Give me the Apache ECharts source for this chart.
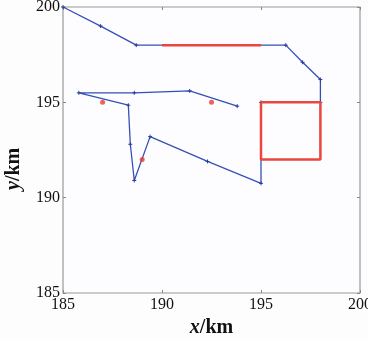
<!DOCTYPE html>
<html><head><meta charset="utf-8">
<script src="https://cdn.jsdelivr.net/npm/echarts@6/dist/echarts.min.js"></script>
<style>html,body{margin:0;padding:0;background:#fff}#c{width:368px;height:340px}</style>
</head><body><div id="c"></div>
<script>
// Blue trajectory
var pathX = [185, 186.9, 188.7, 196.25, 197.1, 198, 198, 195, 195, 192.3, 189.4, 188.6, 188.4, 188.3, 185.8, 188.6, 191.4, 193.8];
var pathY = [200, 199.0, 198.0, 198.0, 197.1, 196.2, 195, 195, 190.75, 191.9, 193.2, 190.9, 192.8, 194.85, 195.5, 195.5, 195.6, 194.8];
// Red segment
var redLineX = [190, 195];
var redLineY = [198, 198];
// Red square
var squareX = [195, 198, 198, 195, 195];
var squareY = [195, 195, 192, 192, 195];
// Red points
var dotX = [187, 192.5, 189];
var dotY = [195, 195, 192];
// Axis ticks
var xTicks = [185, 190, 195, 200];
var yTicks = [185, 190, 195, 200];

function zip(a, b) { return a.map(function (v, i) { return [v, b[i]]; }); }

var font = 'Liberation Serif';
var chart = echarts.init(document.getElementById('c'));
var axisBase = {
  type: 'value', min: xTicks[0], max: xTicks[xTicks.length - 1], interval: 5,
  splitLine: { show: false },
  axisLine: { show: false },
  axisTick: { show: true, inside: true, length: 3, lineStyle: { color: '#888' } }
};
chart.setOption({
  animation: false,
  backgroundColor: '#fdfdfe',
  grid: { left: 63, right: 8, top: 7, bottom: 47, outerBoundsMode: 'none', containLabel: false,
    show: true, borderColor: '#9a9a9a', borderWidth: 1.2, backgroundColor: '#fdfdff' },
  xAxis: [
    Object.assign({}, axisBase, {
      position: 'bottom',
      axisLabel: { color: '#111', fontFamily: font, fontSize: 16, margin: 4 },
      name: '{i|x}/km', nameLocation: 'middle', nameGap: 19,
      nameTextStyle: { fontFamily: font, fontSize: 20, fontWeight: 'bold', color: '#111',
        rich: { i: { fontFamily: font, fontSize: 20, fontWeight: 'bold', fontStyle: 'italic', color: '#111' } } }
    }),
    Object.assign({}, axisBase, { position: 'top', axisLabel: { show: false } })
  ],
  yAxis: [
    Object.assign({}, axisBase, {
      min: yTicks[0], max: yTicks[yTicks.length - 1],
      position: 'left',
      axisLabel: { color: '#111', fontFamily: font, fontSize: 16, margin: 3 }
    }),
    Object.assign({}, axisBase, { min: yTicks[0], max: yTicks[yTicks.length - 1], position: 'right', axisLabel: { show: false } })
  ],
  graphic: [{
    type: 'text', x: 4, y: 190, rotation: Math.PI / 2,
    style: {
      text: '{i|y}/km', fill: '#111', font: 'bold 20px "Liberation Serif"',
      rich: { i: { fontFamily: font, fontSize: 20, fontWeight: 'bold', fontStyle: 'italic', fill: '#111' } }
    }
  }],
  series: [
    {
      type: 'line', data: zip(pathX, pathY), z: 2,
      lineStyle: { color: '#3550b5', width: 1.3 },
      symbol: 'path://M2,0L2,4M0,2L4,2', symbolSize: 4, showSymbol: true,
      itemStyle: { color: '#2a3f9a', borderColor: '#2a3f9a', borderWidth: 1 }
    },
    {
      type: 'line', data: zip(redLineX, redLineY), z: 3, symbol: 'none',
      lineStyle: { color: '#e8463e', width: 2.5 }
    },
    {
      type: 'line', data: zip(squareX, squareY), z: 3, symbol: 'none',
      lineStyle: { color: '#e8463e', width: 2.5 }
    },
    {
      type: 'scatter', data: zip(dotX, dotY), z: 4, symbol: 'circle', symbolSize: 5,
      itemStyle: { color: '#e83a30' }
    }
  ]
});
</script></body></html>
